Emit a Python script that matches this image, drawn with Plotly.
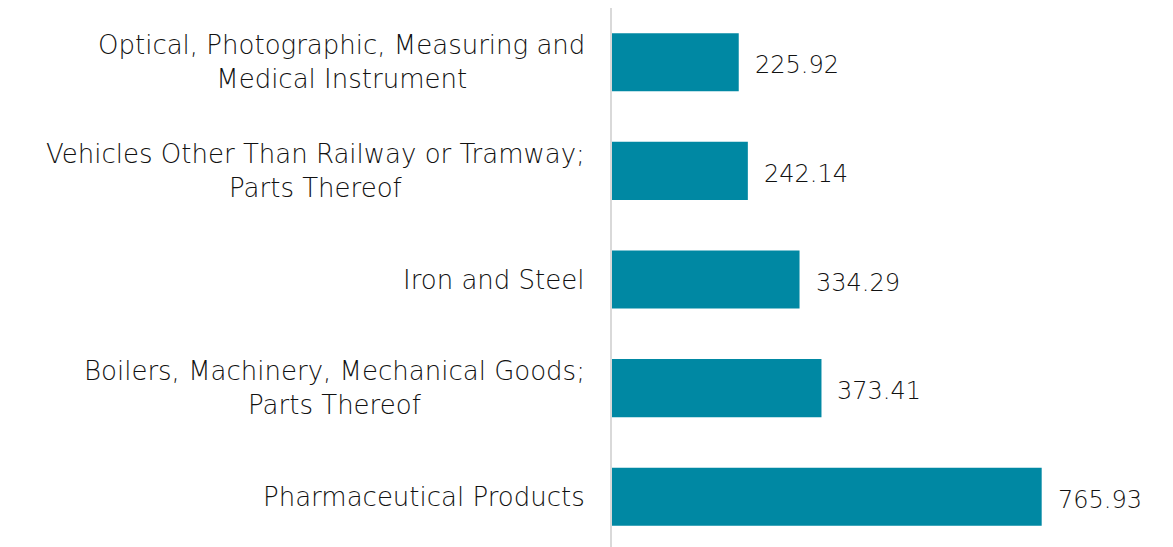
import plotly.graph_objects as go

categories = [
    "Pharmaceutical Products",
    "Boilers, Machinery, Mechanical Goods;<br>Parts Thereof",
    "Iron and Steel",
    "Vehicles Other Than Railway or Tramway;<br>Parts Thereof",
    "Optical, Photographic, Measuring and<br>Medical Instrument",
]
values = [765.93, 373.41, 334.29, 242.14, 225.92]
value_labels = ["765.93", "373.41", "334.29", "242.14", "225.92"]

FONT = "DejaVu Sans"
BAR = "#0088A3"
TXT = "#111111"

fig = go.Figure()
fig.add_trace(go.Bar(
    x=values, y=list(range(len(categories))), orientation="h",
    marker=dict(color=BAR, line=dict(width=0)),
    width=0.535, hoverinfo="skip",
))

ann = []
for i, (c, v, t) in enumerate(zip(categories, values, value_labels)):
    ann.append(dict(x=0, y=i, xref="paper", yref="y", text=c, showarrow=False,
                    xanchor="right", yanchor="middle", align="center", xshift=-25,
                    font=dict(family=FONT, size=26, color=TXT, weight=200)))
    ann.append(dict(x=v, y=i, xref="x", yref="y", text=t, showarrow=False,
                    xanchor="left", yanchor="middle", xshift=14, yshift=-3,
                    font=dict(family=FONT, size=24, color=TXT, weight=200)))

fig.update_layout(
    width=1165, height=539,
    margin=dict(l=604, r=0, t=0, b=0),
    paper_bgcolor="white", plot_bgcolor="white",
    showlegend=False,
    annotations=ann,
    xaxis=dict(range=[0, 1000], visible=False, showgrid=False, zeroline=False),
    yaxis=dict(range=[-0.463, 4.5], showticklabels=False, showgrid=False, zeroline=False,
               showline=True, linecolor="#d9d9d9", linewidth=2, ticks=""),
)

fig.write_html("out.html")
